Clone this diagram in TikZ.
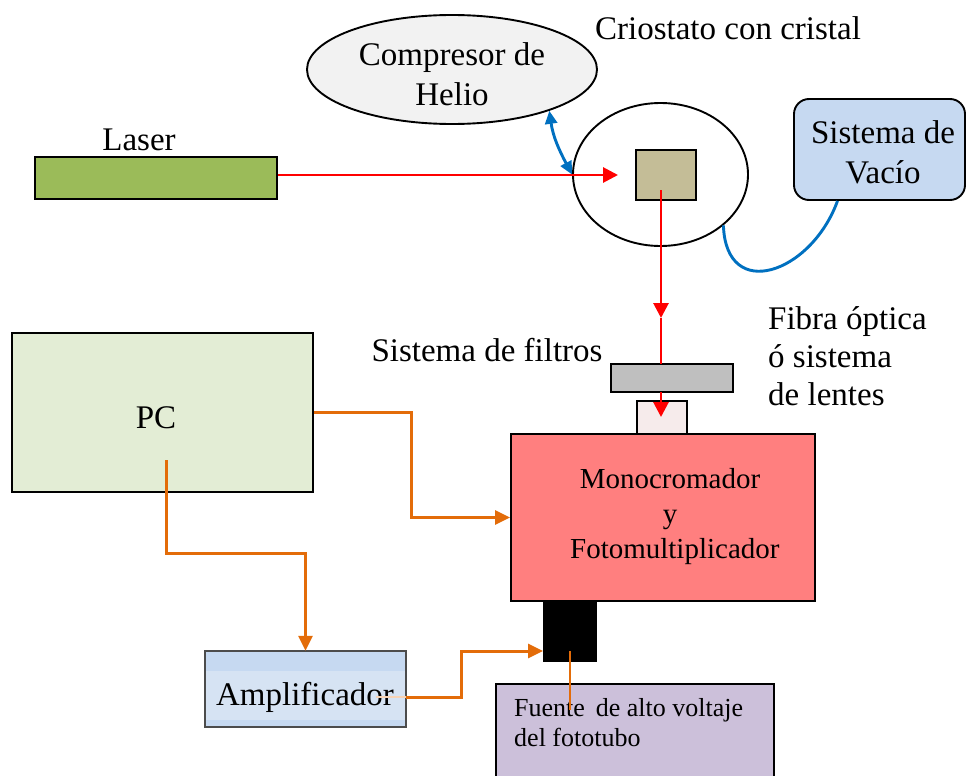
\documentclass[tikz,border=0pt]{standalone}
\usepackage{fontspec}
\setmainfont{Liberation Serif}
\usetikzlibrary{shapes.geometric,arrows.meta}
\definecolor{lasergreen}{HTML}{9BBB59}
\definecolor{crystalc}{HTML}{C4BD97}
\definecolor{compc}{HTML}{F2F2F2}
\definecolor{vacc}{HTML}{C6D9F1}
\definecolor{pcc}{HTML}{E3EDD5}
\definecolor{filterc}{HTML}{BFBFBF}
\definecolor{lensc}{HTML}{F6EBEB}
\definecolor{monoc}{HTML}{FF7F7F}
\definecolor{fuentec}{HTML}{CCC0DA}
\definecolor{ampc}{HTML}{D6E3F3}
\definecolor{ampstrip}{HTML}{C6D9F1}
\definecolor{orangec}{HTML}{E36C09}
\definecolor{bluec}{HTML}{0070C0}
\definecolor{redc}{HTML}{FF0000}
\tikzset{
  bigtext/.style={font=\fontsize{33}{38}\selectfont, inner sep=0pt, align=center},
  boxline/.style={draw=black, line width=1.9pt},
  rectbox/.style={boxline, rectangle, inner sep=0pt},
  redarrow/.style={draw=redc, line width=2.9pt, -{Triangle[length=15pt,width=15pt]}},
  redline/.style={draw=redc, line width=2.9pt},
  orarrow/.style={draw=orangec, line width=3pt, -{Triangle[length=15pt,width=14pt]}},
  orline/.style={draw=orangec, line width=3pt},
  bluearrow/.style={draw=bluec, line width=2.9pt, {Triangle[length=13pt,width=12pt]}-{Triangle[length=13pt,width=12pt]}},
  blueline/.style={draw=bluec, line width=2.9pt},
}
\begin{document}
\begin{tikzpicture}[x=1pt,y=-1pt]
\useasboundingbox (0,0) rectangle (966,776);

% Laser
\node[rectbox, fill=lasergreen, minimum width=242pt, minimum height=42pt] (laser) at (156,178) {};
\node[bigtext] (laserlbl) at (139,140) {Laser};

% Compresor de Helio
\node[boxline, ellipse, fill=compc, minimum width=290pt, minimum height=109pt, inner sep=0pt] (comp) at (452,69.5) {};
\node[bigtext, text depth=0pt] (complbl) at (452,74) {Compresor de\\[2pt]Helio};

% Criostato
\node[bigtext] (criolbl) at (728,28) {Criostato con cristal};
\node[boxline, ellipse, minimum width=175pt, minimum height=143pt, inner sep=0pt] (cryo) at (660.5,174.5) {};
\node[rectbox, fill=crystalc, minimum width=60pt, minimum height=50pt] (crystal) at (666,175) {};

% Sistema de Vacio
\node[boxline, rectangle, rounded corners=15pt, fill=vacc, minimum width=171pt, minimum height=101pt, inner sep=0pt] (vac) at (879.5,149.5) {};
\node[bigtext] (vaclbl) at (883,152) {Sistema de\\[2pt]Vacío};

% Fibra optica label
\node[bigtext, align=left, anchor=west] (fibralbl) at (768,356) {Fibra óptica\\ó sistema\\de lentes};

% Sistema de filtros label
\node[bigtext] (filtlbl) at (487,350) {Sistema de filtros};

% Filter and lens
\node[rectbox, fill=filterc, minimum width=122pt, minimum height=28pt] (filter) at (672,378) {};
\node[rectbox, fill=lensc, minimum width=50pt, minimum height=33pt] (lens) at (662,417.5) {};

% Monocromador
\node[rectbox, fill=monoc, minimum width=304pt, minimum height=167pt] (mono) at (663,517.5) {};
\node[font=\fontsize{29}{35}\selectfont, inner sep=0pt, align=center] (monolbl) at (670,517) {Monocromador\\y\\\,\,Fotomultiplicador};

% PC
\node[rectbox, fill=pcc, minimum width=301pt, minimum height=159pt] (pc) at (162.5,412.5) {};
\node[bigtext] (pclbl) at (156,418) {PC};
\coordinate (pcout) at (166,460);

% Black box
\node[rectbox, fill=black, minimum width=52pt, minimum height=60pt] (blk) at (570,631) {};

% Fuente
\node[rectbox, fill=fuentec, minimum width=278pt, minimum height=110pt, anchor=north west] (fuente) at (495,683) {};
\node[font=\fontsize{26}{30}\selectfont, inner sep=0pt, align=left, anchor=west] (fuentelbl) at (514,723) {Fuente\, de alto voltaje\\del fototubo};

% Amplificador
\node[rectangle, fill=ampc, minimum width=201pt, minimum height=76pt, inner sep=0pt] (amp) at (305.5,689) {};
\fill[ampstrip] (amp.north west) rectangle ([yshift=-20pt]amp.north east);
\fill[ampstrip] ([yshift=7pt]amp.south west) rectangle (amp.south east);
\draw[draw=black!70, line width=1.9pt] (amp.north west) rectangle (amp.south east);
\node[bigtext] (amplbl) at (305,697) {Amplificador};

% ----- connectors -----
\coordinate (beamend) at (618,175);
\draw[redarrow] ([yshift=3pt]laser.east) -- (beamend);

\coordinate (beamstart) at (661,190);
\coordinate (beammid) at (661,318);
\coordinate (filtertop) at (661,364);
\coordinate (filterbot) at (661,392);
\coordinate (lensin) at (661,417);
\draw[redarrow] (beamstart) -- (beammid);
\draw[redline] (beammid) -- (filtertop);
\draw[redarrow] (filterbot) -- (lensin);

\draw[bluearrow] (comp.-23) to[out=-82,in=118] (cryo.west);
\draw[blueline] (cryo.-39) to[out=-88,in=250,looseness=1.7] ([xshift=-42pt]vac.south);

\draw[orarrow] (pc.east) -- ++(98,0) |- (mono.west);
\draw[orarrow] (pcout) -- (166,553) -| (amp.north);

\coordinate (ampout) at (376,697);
\draw[draw=orangec!30, line width=2.6pt] (ampout) -- (406,697);
\draw[orarrow] (406,697) -- (461,697) -- (461,651) -- (blk.west |- 461,651);

\draw[draw=orangec, line width=1.5pt] ([yshift=-20pt]blk.center) -- ++(0,59);
\end{tikzpicture}
\end{document}
